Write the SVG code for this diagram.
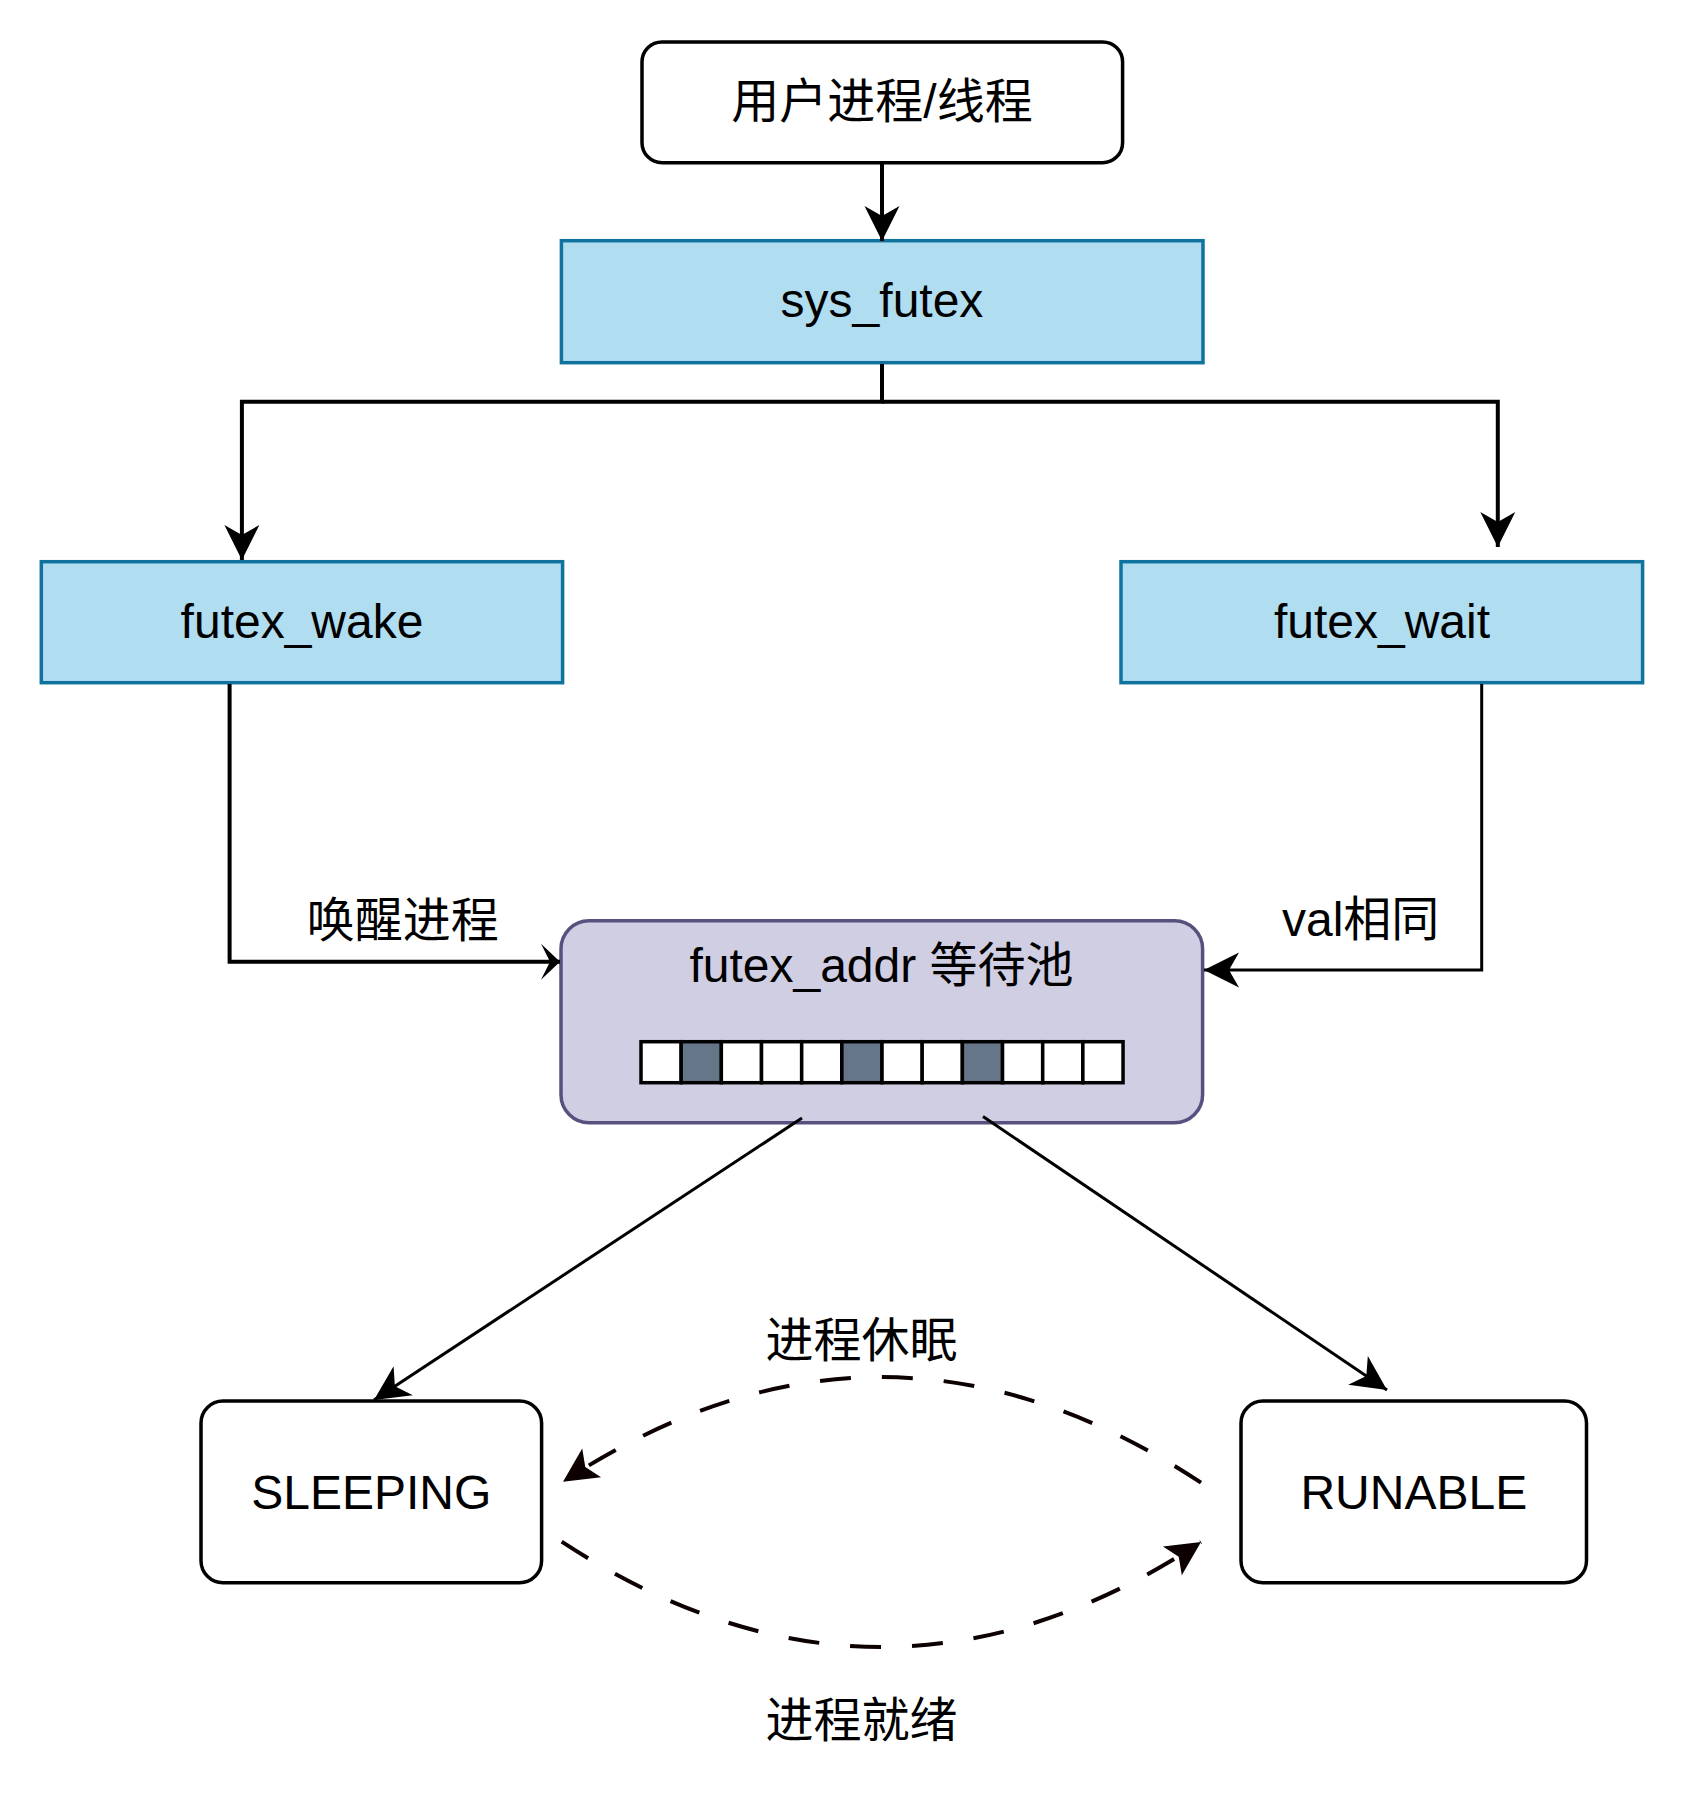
<svg xmlns="http://www.w3.org/2000/svg" width="1684" height="1804" viewBox="0 0 1684 1804">
<style>
text{font-family:"Liberation Sans","Noto Sans CJK SC",Arial,sans-serif;font-size:48px;fill:#000;text-anchor:middle}
.blue{fill:#b1ddf0;stroke:#10739e;stroke-width:3.5}
.white{fill:#fff;stroke:#000;stroke-width:3.5}
.pool{fill:#d0cee2;stroke:#56517e;stroke-width:3.5}
.cell{fill:#fff;stroke:#000;stroke-width:3.5}
.dark{fill:#647687}
.ln{fill:none;stroke:#000;stroke-width:4}
.thin{stroke-width:3}
.dash{fill:none;stroke:#0d0000;stroke-width:4;stroke-dasharray:31 31}
</style>
<defs>
<marker id="arr" markerUnits="userSpaceOnUse" markerWidth="40" markerHeight="40" viewBox="-36 -20 40 40" refX="0" refY="0" orient="auto">
<path d="M0,0 L-35,-17.5 L-25,0 L-35,17.5 Z" fill="#000"/>
</marker>
<marker id="arrs" markerUnits="userSpaceOnUse" markerWidth="40" markerHeight="40" viewBox="-36 -20 40 40" refX="0" refY="0" orient="auto">
<path d="M0,0 L-19,-18 L-10,0 L-19,18 Z" fill="#000"/>
</marker>
<marker id="arrd" markerUnits="userSpaceOnUse" markerWidth="40" markerHeight="40" viewBox="-38 -20 42 40" refX="0" refY="0" orient="auto">
<path d="M0,0 L-36,-18 L-28,0 L-36,18 Z" fill="#0d0000"/>
</marker>
</defs>
<rect width="1684" height="1804" fill="#fff"/>
<g id="user">
<rect class="white" x="642" y="42" width="480.6" height="120.7" rx="20"/>
<text x="882" y="118">用户进程/线程</text>
</g>
<g id="sys_futex">
<rect class="blue" x="561.4" y="240.7" width="641.6" height="122"/>
<text x="882" y="317">sys_futex</text>
</g>
<g id="futex_wake">
<rect class="blue" x="41.3" y="561.7" width="521.3" height="121"/>
<text x="302" y="638">futex_wake</text>
</g>
<g id="futex_wait">
<rect class="blue" x="1121" y="561.7" width="521.6" height="121"/>
<text x="1382" y="638">futex_wait</text>
</g>
<g id="pool">
<rect class="pool" x="561" y="920.7" width="641.6" height="202" rx="28"/>
<text x="881.5" y="982">futex_addr 等待池</text>
<rect class="cell" x="641" y="1041.7" width="40.17" height="41"/>
<rect class="cell dark" x="681.17" y="1041.7" width="40.17" height="41"/>
<rect class="cell" x="721.34" y="1041.7" width="40.17" height="41"/>
<rect class="cell" x="761.51" y="1041.7" width="40.17" height="41"/>
<rect class="cell" x="801.68" y="1041.7" width="40.17" height="41"/>
<rect class="cell dark" x="841.85" y="1041.7" width="40.17" height="41"/>
<rect class="cell" x="882.02" y="1041.7" width="40.17" height="41"/>
<rect class="cell" x="922.19" y="1041.7" width="40.17" height="41"/>
<rect class="cell dark" x="962.36" y="1041.7" width="40.17" height="41"/>
<rect class="cell" x="1002.53" y="1041.7" width="40.17" height="41"/>
<rect class="cell" x="1042.7" y="1041.7" width="40.17" height="41"/>
<rect class="cell" x="1082.87" y="1041.7" width="40.17" height="41"/>
</g>
<g id="sleeping">
<rect class="white" x="201" y="1401" width="340.6" height="181.7" rx="22"/>
<text x="371.3" y="1509">SLEEPING</text>
</g>
<g id="runable">
<rect class="white" x="1241" y="1401" width="345.5" height="181.7" rx="22"/>
<text x="1413.8" y="1509">RUNABLE</text>
</g>
<g id="connectors">
<path class="ln" d="M882,163 L882,241" marker-end="url(#arr)"/>
<path class="ln" d="M882,364 L882,401.7 L241.9,401.7 L241.9,560" marker-end="url(#arr)"/>
<path class="ln" d="M882,401.7 L1497.8,401.7 L1497.8,547" marker-end="url(#arr)"/>
<path class="ln" d="M229.6,684 L229.6,961.7 L560,961.7" marker-end="url(#arrs)"/>
<path class="ln thin" d="M1481.7,684 L1481.7,970 L1204,970" marker-end="url(#arr)"/>
<path class="ln thin" d="M802,1118 L374,1400" marker-end="url(#arr)"/>
<path class="ln thin" d="M983,1116.5 L1387,1390" marker-end="url(#arr)"/>
<path class="dash" d="M1201,1482.7 Q882,1272 563,1481.7" marker-end="url(#arrd)"/>
<path class="dash" d="M561.7,1541.7 Q882,1752 1201,1542" marker-end="url(#arrd)"/>
</g>
<g id="labels">
<text x="402.7" y="937">唤醒进程</text>
<text x="1360.7" y="936">val相同</text>
<text x="861.5" y="1357">进程休眠</text>
<text x="861.5" y="1737">进程就绪</text>
</g>
</svg>
